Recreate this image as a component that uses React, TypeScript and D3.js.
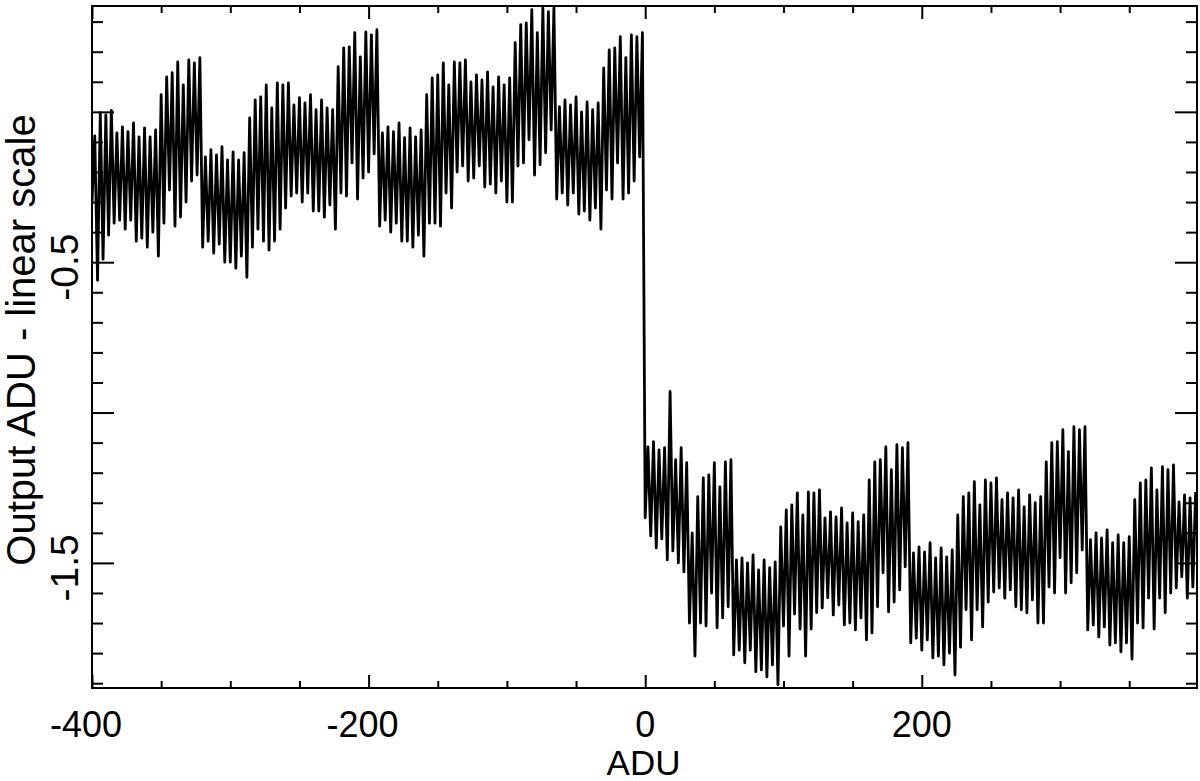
import React, { useEffect, useRef } from 'react';
import * as d3 from 'd3';

// One array per block of the pattern, named by the ADU of its first sample.
const seg_m400 = [-0.30, -0.08, -0.56, -0.003, -0.49, -0.01, -0.41, 0.005, -0.37, -0.07, -0.36, -0.05, -0.39, -0.066, -0.36, -0.037, -0.43, -0.083, -0.42, -0.053, -0.45, -0.083, -0.40, -0.06];
const seg_m352 = [-0.48, 0.057, -0.37, 0.116, -0.26, 0.13, -0.38, 0.166, -0.35, 0.09, -0.30, 0.173, -0.23, 0.163, -0.21, 0.18];
const seg_m320 = [-0.45, -0.15, -0.43, -0.126, -0.47, -0.143, -0.44, -0.116, -0.50, -0.16, -0.50, -0.133, -0.52, -0.16, -0.48, -0.136];
const seg_m288 = [-0.55, -0.02, -0.45, 0.04, -0.39, 0.05, -0.43, 0.09, -0.46, 0.013, -0.43, 0.096, -0.39, 0.09, -0.32, 0.096, -0.28, 0.023, -0.27, 0.047, -0.30, 0.03, -0.27, 0.057, -0.33, 0.007, -0.33, 0.04, -0.35, 0.013, -0.31, 0.007];
const seg_m224 = [-0.39, 0.15, -0.27, 0.213, -0.28, 0.216, -0.17, 0.263, -0.29, 0.183, -0.22, 0.266, -0.20, 0.256, -0.14, 0.273];
const seg_m192 = [-0.38, -0.07, -0.36, -0.05, -0.40, -0.066, -0.37, -0.037, -0.43, -0.086, -0.43, -0.053, -0.45, -0.083, -0.41, -0.06];
const seg_m160 = [-0.48, 0.057, -0.37, 0.113, -0.37, 0.123, -0.38, 0.163, -0.27, 0.09, -0.32, 0.166, -0.20, 0.163, -0.18, 0.173, -0.23, 0.10, -0.22, 0.123, -0.18, 0.106, -0.25, 0.133, -0.24, 0.083, -0.27, 0.116, -0.23, 0.09, -0.30, 0.113];
const seg_m96 = [-0.30, 0.23, -0.18, 0.29, -0.17, 0.296, -0.093, 0.34, -0.21, 0.263, -0.176, 0.346, -0.136, 0.333, -0.06, 0.346];
const seg_m64 = [-0.29, 0.017, -0.27, 0.04, -0.31, 0.023, -0.27, 0.05, -0.34, 0.0, -0.33, 0.033, -0.36, 0.007, -0.32, 0.03];
const seg_m32 = [-0.39, 0.146, -0.26, 0.206, -0.29, 0.213, -0.17, 0.25, -0.29, 0.18, -0.27, 0.256, -0.23, 0.25, -0.15, 0.263];
const seg_0 = [-1.35, -1.114, -1.41, -1.097, -1.45, -1.124, -1.42, -1.117, -1.49, -0.93, -1.46, -1.157, -1.50, -1.117, -1.53, -1.167];
const seg_32 = [-1.70, -1.40, -1.81, -1.28, -1.70, -1.217, -1.71, -1.207, -1.60, -1.167, -1.716, -1.247, -1.683, -1.164, -1.646, -1.157];
const seg_64 = [-1.806, -1.49, -1.79, -1.483, -1.832, -1.50, -1.79, -1.473, -1.862, -1.523, -1.856, -1.49, -1.879, -1.516, -1.839, -1.497, -1.905, -1.38];
const seg_100 = [-1.71, -1.324, -1.81, -1.307, -1.67, -1.267, -1.72, -1.34, -1.81, -1.264, -1.72, -1.267, -1.665, -1.257, -1.65, -1.35, -1.616, -1.33, -1.673, -1.347, -1.64, -1.317, -1.706, -1.367, -1.70, -1.334, -1.723, -1.363, -1.683, -1.34];
const seg_160 = [-1.756, -1.224, -1.733, -1.164, -1.646, -1.157, -1.533, -1.114, -1.663, -1.19, -1.63, -1.107, -1.59, -1.117, -1.513, -1.10];
const seg_192 = [-1.766, -1.467, -1.75, -1.447, -1.79, -1.463, -1.756, -1.433, -1.816, -1.483, -1.81, -1.45, -1.839, -1.48, -1.80, -1.457];
const seg_224 = [-1.873, -1.34, -1.78, -1.28, -1.656, -1.267, -1.756, -1.23, -1.656, -1.307, -1.713, -1.224, -1.63, -1.234, -1.597, -1.217, -1.583, -1.29, -1.617, -1.267, -1.59, -1.284, -1.646, -1.257, -1.656, -1.314, -1.666, -1.274, -1.623, -1.30, -1.70, -1.28];
const seg_288 = [-1.70, -1.164, -1.58, -1.10, -1.60, -1.097, -1.483, -1.057, -1.60, -1.13, -1.566, -1.047, -1.533, -1.057, -1.457, -1.047];
const seg_320 = [-1.723, -1.423, -1.706, -1.40, -1.746, -1.417, -1.713, -1.39, -1.773, -1.433, -1.766, -1.407, -1.796, -1.433, -1.766, -1.413];
const seg_352 = [-1.82, -1.29, -1.70, -1.234, -1.716, -1.224, -1.617, -1.184, -1.72, -1.257, -1.617, -1.18, -1.666, -1.19, -1.60, -1.174, -1.583, -1.297, -1.546, -1.274, -1.617, -1.284, -1.58, -1.264];

const segStarts = [-400, -352, -320, -288, -224, -192, -160, -96, -64, -32, 0, 32, 64, 100, 160, 192, 224, 288, 320, 352];
const segValues = [seg_m400, seg_m352, seg_m320, seg_m288, seg_m224, seg_m192, seg_m160, seg_m96, seg_m64, seg_m32,
    seg_0, seg_32, seg_64, seg_100, seg_160, seg_192, seg_224, seg_288, seg_320, seg_352];
const sampleStep = 2;

// axes
const xDomain = [-400, 399];
const yDomain = [-1.916, 0.352];
const xMajor = [-400, -200, 0, 200];
const xMajorLabels = ['-400', '-200', '0', '200'];
const xMinor = [-350, -300, -250, -150, -100, -50, 50, 100, 150, 250, 300, 350];
const yMajor = [0, -0.5, -1.0, -1.5];
const yLabelled = [-0.5, -1.5];
const yLabelText = ['-0.5', '-1.5'];
const yMinor = [0.3, 0.2, 0.1, -0.1, -0.2, -0.3, -0.4, -0.6, -0.7, -0.8, -0.9, -1.1, -1.2, -1.3, -1.4, -1.6, -1.7, -1.8, -1.9];

export default function App() {
    const ref = useRef<SVGSVGElement>(null);

    useEffect(() => {
        const width = 1200;
        const height = 781;
        const margin = { top: 6, right: 3, bottom: 93, left: 92 };
        const font = 'Liberation Sans, Arial, Helvetica, sans-serif';

        const svg = d3.select(ref.current);
        svg.selectAll('*').remove();

        const x = d3.scaleLinear().domain(xDomain).range([margin.left, width - margin.right]);
        const y = d3.scaleLinear().domain(yDomain).range([height - margin.bottom, margin.top]);
        const [x0, x1] = x.range();
        const [y0, y1] = y.range();

        const points: [number, number][] = [];
        segValues.forEach((vals, s) => {
            vals.forEach((v, i) => points.push([segStarts[s] + i * sampleStep, v]));
        });

        svg.append('defs').append('clipPath').attr('id', 'plotclip')
            .append('rect').attr('x', x0).attr('y', y1).attr('width', x1 - x0).attr('height', y0 - y1);

        // the data line
        const line = d3.line<[number, number]>().x(d => x(d[0])).y(d => y(d[1]));
        svg.append('path')
            .datum(points)
            .attr('clip-path', 'url(#plotclip)')
            .attr('fill', 'none')
            .attr('stroke', '#000')
            .attr('stroke-width', 2.8)
            .attr('stroke-linejoin', 'round')
            .attr('d', line);

        // tick marks on all four sides, pointing in
        const xLong = 13, xShort = 7, yLong = 22, yShort = 11;
        const addAxis = (axis: d3.Axis<d3.NumberValue>, tx: number, ty: number) => {
            const g = svg.append('g').attr('transform', `translate(${tx},${ty})`).call(axis);
            g.select('.domain').remove();
            g.selectAll('text').remove();
            g.selectAll('line').attr('stroke', '#000').attr('stroke-width', 2);
        };
        addAxis(d3.axisBottom(x).tickValues(xMajor).tickSizeInner(-xLong).tickSizeOuter(0), 0, y0);
        addAxis(d3.axisBottom(x).tickValues(xMinor).tickSizeInner(-xShort).tickSizeOuter(0), 0, y0);
        addAxis(d3.axisTop(x).tickValues(xMajor).tickSizeInner(-xLong).tickSizeOuter(0), 0, y1);
        addAxis(d3.axisTop(x).tickValues(xMinor).tickSizeInner(-xShort).tickSizeOuter(0), 0, y1);
        addAxis(d3.axisLeft(y).tickValues(yMajor).tickSizeInner(-yLong).tickSizeOuter(0), x0, 0);
        addAxis(d3.axisLeft(y).tickValues(yMinor).tickSizeInner(-yShort).tickSizeOuter(0), x0, 0);
        addAxis(d3.axisRight(y).tickValues(yMajor).tickSizeInner(-yLong).tickSizeOuter(0), x1, 0);
        addAxis(d3.axisRight(y).tickValues(yMinor).tickSizeInner(-yShort).tickSizeOuter(0), x1, 0);

        // frame
        svg.append('rect')
            .attr('x', x0).attr('y', y1)
            .attr('width', x1 - x0).attr('height', y0 - y1)
            .attr('fill', 'none').attr('stroke', '#000').attr('stroke-width', 2);

        // x tick labels
        svg.append('g').selectAll('text')
            .data(xMajor)
            .join('text')
            .attr('x', d => x(d))
            .attr('y', y0 + 49)
            .attr('dx', (d, i) => xMajorLabels[i].startsWith('-') ? -6 : 0)
            .attr('text-anchor', 'middle')
            .attr('font-family', font)
            .attr('font-size', 36)
            .text((d, i) => xMajorLabels[i]);

        // y tick labels, written upwards
        svg.append('g').selectAll('text')
            .data(yLabelled)
            .join('text')
            .attr('transform', d => `translate(${x0 - 14},${y(d)}) rotate(-90)`)
            .attr('dx', -5)
            .attr('text-anchor', 'middle')
            .attr('font-family', font)
            .attr('font-size', 39)
            .text((d, i) => yLabelText[i]);

        // axis titles
        svg.append('text')
            .attr('x', (x0 + x1) / 2 - 1)
            .attr('y', 775)
            .attr('text-anchor', 'middle')
            .attr('font-family', font)
            .attr('font-size', 35)
            .text('ADU');

        svg.append('text')
            .attr('transform', `translate(35,${(y0 + y1) / 2 - 7}) rotate(-90)`)
            .attr('text-anchor', 'middle')
            .attr('font-family', font)
            .attr('font-size', 40)
            .text('Output ADU - linear scale');
    }, []);

    return (
        <svg ref={ref} width={1200} height={781}
            style={{ position: 'absolute', left: 0, top: 0, background: '#fff' }} />
    );
}
